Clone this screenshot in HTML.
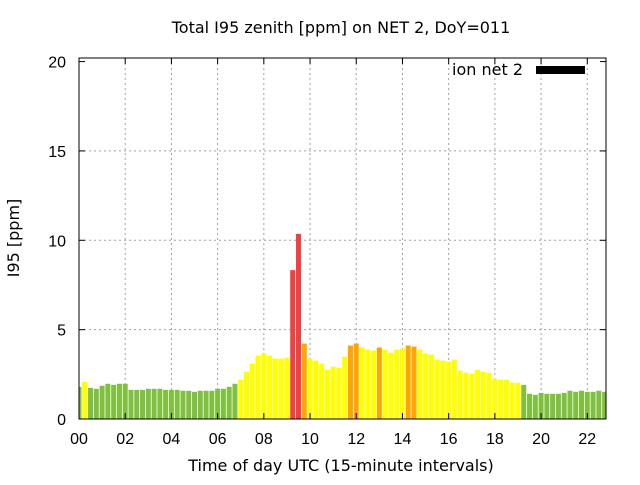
<!DOCTYPE html>
<html><head><meta charset="utf-8"><style>
body{margin:0;background:#fff;}
svg text{font-family:"DejaVu Sans","Liberation Sans",sans-serif;fill:#000;}
svg text.tick{font-family:"Liberation Sans","DejaVu Sans",sans-serif;}
</style></head><body>
<svg id="chart" width="640" height="480" xmlns="http://www.w3.org/2000/svg"></svg>
<script>
const values=[1.80,2.08,1.74,1.69,1.86,1.97,1.91,1.97,1.97,1.63,1.63,1.63,1.69,1.69,1.69,1.63,1.63,1.63,1.58,1.58,1.52,1.58,1.58,1.58,1.69,1.69,1.80,1.97,2.2,2.65,3.10,3.55,3.66,3.55,3.38,3.38,3.43,8.33,10.36,4.22,3.38,3.26,3.10,2.76,2.93,2.87,3.49,4.11,4.22,4.0,3.88,3.83,4.0,3.88,3.71,3.88,3.94,4.11,4.05,3.88,3.66,3.60,3.32,3.26,3.21,3.32,2.70,2.59,2.53,2.76,2.65,2.59,2.25,2.2,2.2,2.03,2.03,1.91,1.41,1.35,1.46,1.41,1.41,1.41,1.46,1.58,1.52,1.58,1.52,1.52,1.58,1.52];
const colorClass="gy"+"gggggggggggggggggggggggggg"+"yyyyyyyyy"+"rr"+"o"+"yyyyyyy"+"oo"+"yyy"+"o"+"yyyy"+"oo"+"yyyyyyyyyyyyyyyyyy"+"ggggggggggggggg";
const xTicks=["00","02","04","06","08","10","12","14","16","18","20","22"];
const yTicks=[0,5,10,15,20];
const colors={g:"#80c040",y:"#ffff00",o:"#ffa500",r:"#f04040"};
const L=79,R=606,T=58,B=419,xMax=22.81,yMax=20.2;
const X=h=>L+h/xMax*(R-L);
const Y=v=>B-v/yMax*(B-T);
const svg=document.getElementById('chart');
const NS="http://www.w3.org/2000/svg";
function mk(tag,attrs,parent){const e=document.createElementNS(NS,tag);for(const k in attrs)e.setAttribute(k,attrs[k]);(parent||svg).appendChild(e);return e;}
const clip=mk('clipPath',{id:'pc'});mk('rect',{x:L,y:T,width:R-L,height:B-T},clip);
yTicks.forEach(v=>{if(v>0&&v<20){const g=mk('line',{x1:L,x2:R,y1:Y(v),y2:Y(v),stroke:'#a0a0a0','stroke-dasharray':'2,3'});

}});
xTicks.forEach((t,i)=>{if(i>0){const g=mk('line',{x1:X(i*2),x2:X(i*2),y1:T,y2:B,stroke:'#a0a0a0','stroke-dasharray':'2,3'});

}});
const bg=mk('g',{'clip-path':'url(#pc)'});


values.forEach((v,i)=>{const h=i*0.25;const w=5;
const r=mk('rect',{x:X(h)-w/2,y:Y(v),width:w,height:B-Y(v),fill:colors[colorClass[i]]||colors.y},bg);

});
const f=mk('rect',{x:L,y:T,width:R-L,height:B-T,fill:'none',stroke:'#000','stroke-width':1});


yTicks.forEach(v=>{mk('line',{x1:L,x2:L+6,y1:Y(v),y2:Y(v),stroke:'#000'});mk('line',{x1:R,x2:R-6,y1:Y(v),y2:Y(v),stroke:'#000'});
const t=mk('text',{x:L-13,y:Y(v)+6,'text-anchor':'end','font-size':16,'class':'tick'});t.textContent=v;

});
xTicks.forEach((s,i)=>{const x=X(i*2);mk('line',{x1:x,x2:x,y1:B,y2:B-6,stroke:'#000'});mk('line',{x1:x,x2:x,y1:T,y2:T+6,stroke:'#000'});
const t=mk('text',{x:x,y:444,'text-anchor':'middle','font-size':16,'class':'tick'});t.textContent=s;

});
const ti=mk('text',{x:341,y:33,'text-anchor':'middle','font-size':16});ti.textContent="Total I95 zenith [ppm] on NET 2, DoY=011";


const xt=mk('text',{x:341,y:471,'text-anchor':'middle','font-size':16});xt.textContent="Time of day UTC (15-minute intervals)";


const yt=mk('text',{x:0,y:0,'text-anchor':'middle','font-size':16,transform:'translate(19,238) rotate(-90)'});yt.textContent="I95 [ppm]";


const lg=mk('g',{});


const lt=mk('text',{x:523,y:75,'text-anchor':'end','font-size':16},lg);lt.textContent="ion net 2";
mk('rect',{x:536,y:66,width:49,height:8,fill:'#000'},lg);
</script>
</body></html>
